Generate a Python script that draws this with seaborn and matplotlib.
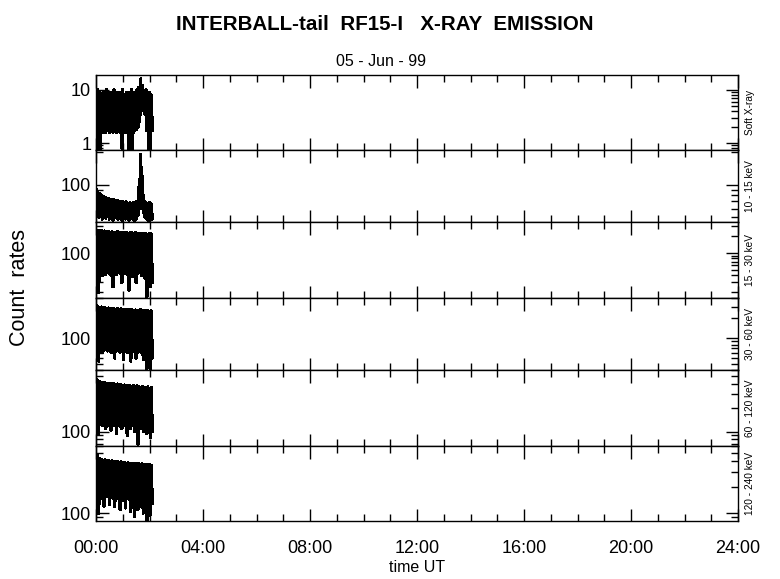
import numpy as np
import pandas as pd
import seaborn as sns
import matplotlib
matplotlib.use("Agg")
import matplotlib.pyplot as plt
from matplotlib.ticker import LogLocator, FixedLocator, MultipleLocator, FuncFormatter

# sample times, minutes after 00:00 UT
minutes = [0, 2, 4, 6, 8, 10, 12, 14,
           16, 18, 20, 22, 24, 26, 28, 30,
           32, 34, 36, 38, 40, 42, 44, 46,
           48, 50, 52, 54, 56, 58, 60, 62,
           64, 66, 68, 70, 72, 74, 76, 78,
           80, 82, 84, 86, 88, 90, 92, 94,
           96, 98, 100, 102, 104, 106, 108, 110,
           112, 114, 116, 118, 120, 122, 124, 126]

soft_xray = [9, 0.7, 10, 1.7, 9, 0.6, 8, 1.6,
             9, 1.7, 8, 1.6, 10, 1.7, 9, 1.6,
             8, 1.7, 9, 1.6, 10, 1.7, 8, 1.6,
             9, 1.7, 8, 1.6, 9, 0.8, 10, 1.7,
             8, 1.6, 9, 1.7, 8, 0.7, 9, 1.6,
             10, 0.7, 9, 1.7, 8, 1.8, 10, 2,
             11, 2.5, 16, 4, 12, 5, 9, 3.5,
             10, 1.7, 9, 0.6, 9, 0.7, 8, 1.7]

kev_10_15 = [92, 55, 85, 50, 82, 52, 80, 48,
             78, 50, 76, 49, 75, 52, 74, 48,
             73, 50, 72, 47, 72, 50, 70, 49,
             71, 48, 70, 50, 69, 47, 70, 49,
             68, 48, 69, 50, 67, 47, 68, 49,
             67, 48, 68, 46, 66, 48, 70, 52,
             95, 60, 190, 75, 120, 55, 70, 50,
             68, 48, 67, 46, 68, 49, 66, 48]

kev_15_30 = [260, 45, 250, 20, 245, 48, 250, 40,
             240, 46, 245, 42, 238, 47, 240, 44,
             235, 40, 240, 25, 235, 45, 230, 42,
             238, 46, 232, 44, 230, 30, 235, 46,
             228, 44, 232, 42, 225, 22, 230, 45,
             228, 38, 225, 45, 230, 30, 222, 44,
             225, 46, 220, 40, 225, 44, 218, 35,
             222, 17, 215, 42, 220, 25, 218, 30]

kev_30_60 = [320, 70, 300, 45, 290, 68, 295, 60,
             285, 66, 290, 70, 280, 64, 285, 68,
             275, 60, 280, 66, 278, 50, 272, 65,
             280, 68, 270, 62, 275, 66, 268, 48,
             272, 64, 265, 60, 270, 66, 262, 45,
             268, 62, 260, 65, 265, 50, 258, 62,
             262, 64, 270, 60, 258, 48, 262, 63,
             255, 35, 260, 58, 252, 33, 258, 50]

kev_60_120 = [470, 130, 440, 95, 430, 125, 420, 120,
              415, 128, 420, 110, 410, 125, 405, 120,
              410, 105, 400, 125, 405, 120, 395, 95,
              400, 122, 390, 118, 395, 110, 385, 125,
              390, 120, 385, 90, 380, 118, 385, 110,
              375, 120, 380, 100, 372, 115, 378, 70,
              370, 118, 365, 110, 372, 100, 365, 115,
              360, 95, 368, 110, 355, 85, 362, 100]

kev_120_240 = [450, 160, 480, 100, 430, 165, 420, 150,
               410, 120, 415, 160, 405, 155, 410, 125,
               400, 160, 405, 150, 395, 120, 400, 158,
               395, 150, 390, 110, 392, 155, 385, 140,
               388, 115, 380, 150, 385, 145, 375, 105,
               380, 150, 372, 92, 378, 140, 370, 110,
               375, 145, 368, 120, 372, 100, 365, 140,
               370, 82, 362, 120, 368, 95, 360, 130]

channels = ["Soft X-ray", "10 - 15 keV", "15 - 30 keV",
            "30 - 60 keV", "60 - 120 keV", "120 - 240 keV"]
series = [soft_xray, kev_10_15, kev_15_30, kev_30_60, kev_60_120, kev_120_240]
ylims = [(0.74, 19), (45, 210), (15.8, 357), (33, 404), (66, 604), (81, 602)]
hour_labels = ["00:00", "04:00", "08:00", "12:00", "16:00", "20:00", "24:00"]

sns.set_style("ticks")
plt.rcParams["font.family"] = ["Liberation Sans", "DejaVu Sans"]
for key in ["text.color", "axes.labelcolor", "xtick.color", "ytick.color", "axes.edgecolor"]:
    plt.rcParams[key] = "black"

W, H = 780, 579
fig = plt.figure(figsize=(W / 100, H / 100), dpi=100)

edges = [75, 150, 222, 298, 370, 446, 521]
left, right = 96, 738

hours = [m / 60 for m in minutes]

for i, (name, vals) in enumerate(zip(channels, series)):
    top, bot = edges[i], edges[i + 1]
    ax = fig.add_axes([left / W, 1 - bot / H, (right - left) / W, (bot - top) / H])
    df = pd.DataFrame({"t": hours, "rate": vals})
    sns.lineplot(data=df, x="t", y="rate", ax=ax, color="black", lw=1.7,
                 estimator=None, sort=False, antialiased=False)
    ax.set_yscale("log")
    ax.set_ylim(*ylims[i])
    ax.set_xlim(0, 24)
    ax.set_xlabel("")
    ax.set_ylabel("")
    ax.yaxis.set_major_locator(LogLocator(base=10, numticks=10))
    ax.yaxis.set_minor_locator(LogLocator(base=10, subs=np.arange(2, 10), numticks=20))
    ax.yaxis.set_major_formatter(FuncFormatter(lambda v, p: "%g" % v))
    ax.yaxis.set_minor_formatter(FuncFormatter(lambda v, p: ""))
    ax.xaxis.set_major_locator(MultipleLocator(4))
    ax.xaxis.set_minor_locator(MultipleLocator(1))
    ax.tick_params(which="both", direction="in", top=True, right=True,
                   color="black", width=1)
    ax.tick_params(which="major", length=9, labelsize=13)
    ax.tick_params(which="minor", length=5)
    for s in ax.spines.values():
        s.set_color("black")
        s.set_linewidth(1)
    if i < len(channels) - 1:
        ax.set_xticklabels([])
    else:
        ax.xaxis.set_major_locator(FixedLocator(range(0, 25, 4)))
        ax.set_xticklabels(hour_labels, fontsize=13)
        ax.tick_params(axis="x", pad=14)
    fig.text(750 / W, 1 - (top + bot) / 2 / H, name, rotation=90,
             ha="center", va="center", fontsize=7.3)

fig.text(385 / W, 1 - 25 / H, "INTERBALL-tail  RF15-I   X-RAY  EMISSION",
         ha="center", va="center", fontsize=14.8, fontweight="bold")
fig.text(381 / W, 1 - 62 / H, "05 - Jun - 99", ha="center", va="center", fontsize=11.5)
fig.text(20 / W, 1 - 288 / H, "Count  rates", rotation=90,
         ha="center", va="center", fontsize=15.5)
fig.text(417 / W, 1 - 567 / H, "time UT", ha="center", va="center", fontsize=11.5)

fig.savefig("out.png", dpi=100, facecolor="white")
